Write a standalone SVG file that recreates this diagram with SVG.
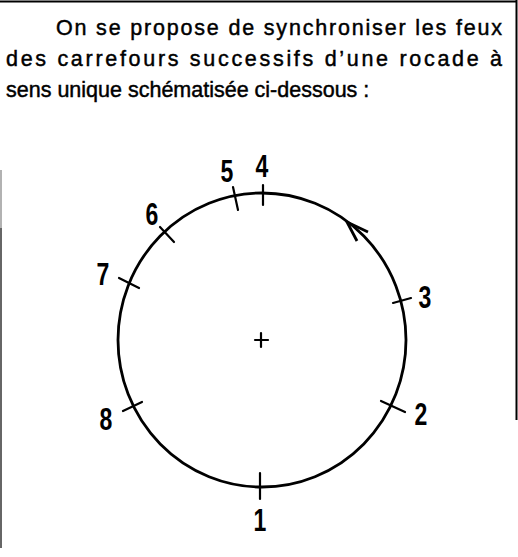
<svg xmlns="http://www.w3.org/2000/svg" width="518" height="557" viewBox="0 0 518 557">
<style>
.txt{font-family:"Liberation Sans",Arial,sans-serif;font-size:21.5px;fill:#000;stroke:#000;stroke-width:0.45}
.num{font-family:"Liberation Sans",Arial,sans-serif;font-weight:bold;font-size:32px;fill:#000;text-anchor:middle}
.tick{stroke:#000;stroke-width:2.2;stroke-linecap:round;fill:none}
.road{stroke:#000;stroke-width:2.8;fill:none}
.frame{stroke:#000;stroke-width:2;fill:none}
</style>
<rect width="518" height="557" fill="#fff"/>
<g id="frame">
<line class="frame" x1="0" y1="1.5" x2="517" y2="1.5"/>
<line class="frame" x1="516.5" y1="0" x2="516.5" y2="420"/>
<line x1="1" y1="170" x2="1" y2="228" stroke="#999" stroke-width="1.5"/>
<line x1="1" y1="228" x2="1" y2="548" stroke="#333" stroke-width="1.5"/>
</g>
<g id="intro">
<text class="txt" x="56" y="35" textLength="446" lengthAdjust="spacing">On se propose de synchroniser les feux</text>
<text class="txt" x="6" y="66" textLength="496" lengthAdjust="spacing">des carrefours successifs d’une rocade à</text>
<text class="txt" x="6" y="97">sens unique schématisée ci-dessous :</text>
</g>
<g id="connectors">
<ellipse class="road" cx="262" cy="340" rx="144" ry="147"/>
<polyline class="road" points="368,232 347,222 357,241" stroke-linejoin="miter"/>
</g>
<g id="center">
<line class="tick" x1="255" y1="340" x2="268" y2="340"/>
<line class="tick" x1="261" y1="333" x2="261" y2="347"/>
</g>
<g id="n1"><line class="tick" x1="260" y1="473" x2="260" y2="499"/><text class="num" transform="translate(260,531) scale(0.72,1)">1</text></g>
<g id="n2"><line class="tick" x1="381" y1="401" x2="405" y2="412"/><text class="num" transform="translate(421,425) scale(0.72,1)">2</text></g>
<g id="n3"><line class="tick" x1="393" y1="303" x2="411" y2="298"/><text class="num" transform="translate(425,308) scale(0.72,1)">3</text></g>
<g id="n4"><line class="tick" x1="263" y1="185" x2="263" y2="205"/><text class="num" transform="translate(262,177) scale(0.72,1)">4</text></g>
<g id="n5"><line class="tick" x1="233" y1="187" x2="238" y2="210"/><text class="num" transform="translate(227,182) scale(0.72,1)">5</text></g>
<g id="n6"><line class="tick" x1="160" y1="227" x2="174" y2="242"/><text class="num" transform="translate(152,225) scale(0.72,1)">6</text></g>
<g id="n7"><line class="tick" x1="119" y1="278" x2="139" y2="288"/><text class="num" transform="translate(103,285) scale(0.72,1)">7</text></g>
<g id="n8"><line class="tick" x1="123" y1="411" x2="142" y2="402"/><text class="num" transform="translate(106,430) scale(0.72,1)">8</text></g>
</svg>
